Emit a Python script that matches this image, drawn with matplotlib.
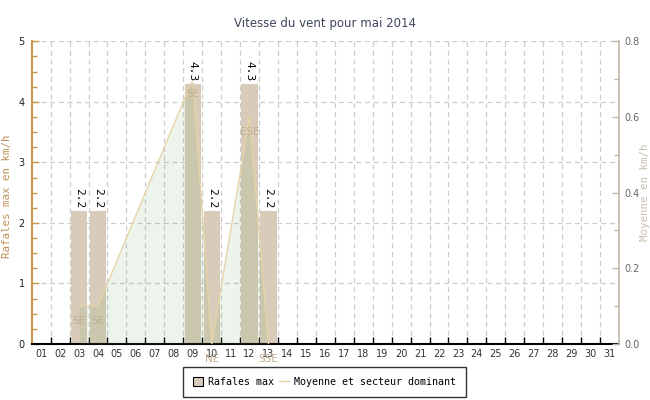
import numpy as np
import matplotlib
matplotlib.use("Agg")
import matplotlib.pyplot as plt
from matplotlib.patches import Patch
from matplotlib.lines import Line2D
from matplotlib.ticker import MultipleLocator, FixedLocator, NullFormatter

# Data: vent mai 2014
days = ["%02d" % d for d in range(1, 32)]
rafales = [None, None, 2.2, 2.2, None, None, None, None, 4.3, 2.2, None, 4.3, 2.2] + [None] * 18
moyenne = [None, None, 0.1, 0.1, None, None, None, None, 0.7, 0.0, None, 0.6, 0.0] + [None] * 18
secteur = ["", "", "SE", "SE", "", "", "", "", "SE", "NE", "", "ESE", "SSE"] + [""] * 18

bar_color = "#d8cbb9"
line_color = "#e6d4a8"
fill_color = (116 / 255, 170 / 255, 101 / 255, 0.13)
dir_color = "#c2b08e"

fig = plt.figure(figsize=(6.5, 4), dpi=100)
ax = fig.add_axes([0.0488, 0.14, 0.9035, 0.7568])
ax2 = ax.twinx()

x = np.arange(len(days))
bx = [i for i, v in enumerate(rafales) if v is not None]
bv = [rafales[i] for i in bx]
ax.bar(bx, bv, width=0.86, color=bar_color, zorder=2)

mx = [i for i, v in enumerate(moyenne) if v is not None]
mv = [moyenne[i] for i in mx]
ax2.fill_between(mx, mv, 0, color=fill_color, linewidth=0, zorder=1)
ax2.plot(mx, mv, color=line_color, lw=1, zorder=2)

for i, s in enumerate(secteur):
    if s:
        ax2.annotate(s, (i, moyenne[i]), xytext=(0, -10.5), textcoords="offset points",
                     ha="center", va="center", fontsize=7.5, color=dir_color,
                     annotation_clip=False)

for i, v in zip(bx, bv):
    ax2.annotate("%.1f" % v, (i, v), xycoords=ax.transData, xytext=(0, 2),
                 textcoords="offset points", ha="center", va="bottom",
                 rotation=270, fontsize=8, family="DejaVu Sans Mono",
                 bbox=dict(facecolor="white", edgecolor="none", pad=0.5), zorder=5)

ax.set_xlim(-0.5, 30.5)
ax.set_ylim(0, 5)
ax2.set_ylim(0, 0.8)

# x axis: ticks at day boundaries, labels at centres
ax.xaxis.set_major_locator(FixedLocator(np.arange(0.5, 30, 1)))
ax.xaxis.set_major_formatter(NullFormatter())
ax.xaxis.set_minor_locator(FixedLocator(x))
ax.set_xticklabels(days, minor=True)
ax.tick_params(axis="x", which="major", direction="in", length=5, width=1, color="black")
ax.tick_params(axis="x", which="minor", length=0, pad=3.5, labelsize=7, labelcolor="#333333")

ax.yaxis.set_major_locator(MultipleLocator(1))
ax.yaxis.set_minor_locator(MultipleLocator(0.25))
ax.tick_params(axis="y", which="both", direction="in", color="#c8964e", width=1,
               labelsize=7, labelcolor="#222222", pad=5)
ax.tick_params(axis="y", which="major", length=5)
ax.tick_params(axis="y", which="minor", length=3.5)

ax2.yaxis.set_major_locator(MultipleLocator(0.2))
ax2.yaxis.set_minor_locator(MultipleLocator(0.1))
ax2.yaxis.set_major_formatter(plt.FuncFormatter(lambda v, p: "%.1f" % v))
ax2.tick_params(axis="y", which="both", direction="in", color="#c0b8a8", width=1,
                labelsize=7, labelcolor="#666666", pad=4)
ax2.tick_params(axis="y", which="major", length=5)
ax2.tick_params(axis="y", which="minor", length=3.5)

ax.grid(True, which="major", axis="both", color="#cccccc", linestyle=(0, (4, 3)), lw=0.9, zorder=0)
ax.set_axisbelow(True)

for a in (ax, ax2):
    a.spines["top"].set_visible(False)
ax.spines["right"].set_visible(False)
ax2.spines["left"].set_visible(False)
ax2.spines["bottom"].set_visible(False)
ax.spines["left"].set_color("#c8964e")
ax.spines["left"].set_linewidth(1.5)
ax.spines["bottom"].set_color("black")
ax.spines["bottom"].set_linewidth(1.5)
ax2.spines["right"].set_color("#c0b8a8")
ax2.spines["right"].set_linewidth(1.2)

fig.text(0.5, 0.94, "Vitesse du vent pour mai 2014", ha="center", va="center",
         fontsize=8.5, color="#3c465a")
fig.text(0.0115, 0.51, "Rafales max en km/h", rotation=90, ha="center", va="center",
         fontsize=7.8, color="#c09058", family="DejaVu Sans Mono")
fig.text(0.992, 0.52, "Moyenne en km/h", rotation=90, ha="center", va="center",
         fontsize=7.8, color="#c8c0b0", family="DejaVu Sans Mono")

handles = [Patch(facecolor=bar_color, edgecolor="black", linewidth=0.8),
           Line2D([], [], color=line_color, lw=1)]
leg = fig.legend(handles, ["Rafales max", "Moyenne et secteur dominant"],
                 loc="center", bbox_to_anchor=(0.4985, 0.046), ncol=2,
                 frameon=True, fancybox=False, edgecolor="black",
                 prop={"family": "DejaVu Sans Mono", "size": 7.2},
                 handlelength=1.0, handleheight=1.1, columnspacing=0.5,
                 handletextpad=0.5, borderpad=1.0, borderaxespad=0)
leg.get_frame().set_linewidth(1)

fig.savefig("out.png", dpi=100)
